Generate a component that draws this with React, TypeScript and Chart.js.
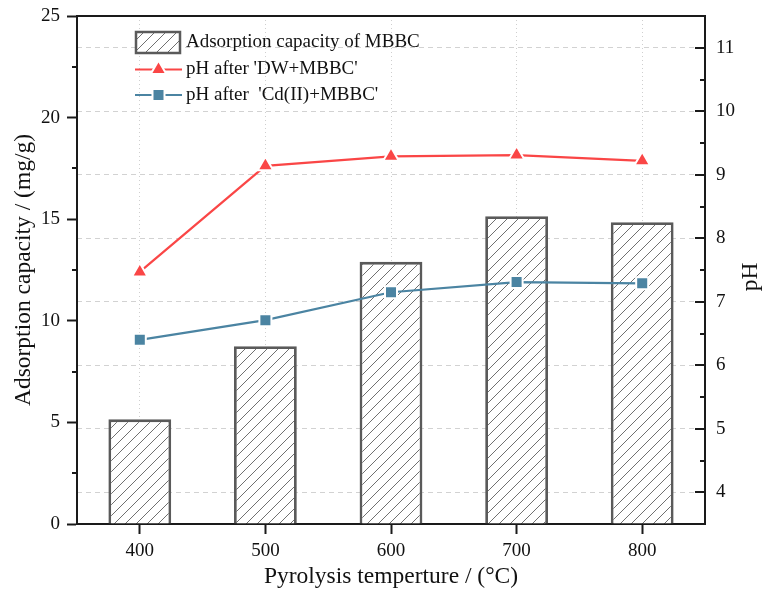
import React, { useEffect, useRef } from 'react';
import { Chart, registerables } from 'chart.js';

Chart.register(...registerables);

// ---- data ----
const temperatures = ['400', '500', '600', '700', '800'];
const adsorptionCapacity = [5.15, 8.75, 12.9, 15.15, 14.85];
const phAfterDW = [7.47, 9.14, 9.29, 9.31, 9.22];
const phAfterCd = [6.4, 6.71, 7.15, 7.31, 7.29];
const capacityTicks = [0, 5, 10, 15, 20, 25];
const phTicks = [4, 5, 6, 7, 8, 9, 10, 11];
const capacityMin = 0;
const capacityMax = 25;
const phMin = 3.5;
const phMax = 11.5;

const barLabel = 'Adsorption capacity of MBBC';
const dwLabel = "pH after 'DW+MBBC'";
const cdLabel = "pH after  'Cd(II)+MBBC'";
const xTitle = 'Pyrolysis temperture / (°C)';
const yTitle = 'Adsorption capacity / (mg/g)';
const y1Title = 'pH';

// ---- style ----
const FONT = "'Liberation Serif', 'Times New Roman', serif";
const AXIS = '#1a1a1a';
const TEXT = '#111111';
const RED = '#fa4646';
const BLUE = '#4b84a2';
const BAR_EDGE = '#5a5a5a';

function makeHatch(): CanvasPattern | string {
  const s = 11;
  const c = document.createElement('canvas');
  c.width = s;
  c.height = s;
  const g = c.getContext('2d');
  if (!g) return '#ffffff';
  g.fillStyle = '#ffffff';
  g.fillRect(0, 0, s, s);
  g.strokeStyle = '#707070';
  g.lineWidth = 1;
  g.beginPath();
  g.moveTo(-1, s + 1);
  g.lineTo(s + 1, -1);
  g.moveTo(-1, 1);
  g.lineTo(1, -1);
  g.moveTo(s - 1, s + 1);
  g.lineTo(s + 1, s - 1);
  g.stroke();
  return g.createPattern(c, 'repeat') || '#ffffff';
}

function drawTriangle(ctx: CanvasRenderingContext2D, x: number, y: number, r: number, color: string) {
  ctx.save();
  ctx.beginPath();
  for (let i = 0; i < 3; i++) {
    const a = (i * 2 * Math.PI) / 3;
    const px = x + Math.sin(a) * r;
    const py = y - Math.cos(a) * r;
    if (i === 0) ctx.moveTo(px, py);
    else ctx.lineTo(px, py);
  }
  ctx.closePath();
  ctx.fillStyle = color;
  ctx.fill();
  ctx.strokeStyle = '#ffffff';
  ctx.lineWidth = 2;
  ctx.stroke();
  ctx.restore();
}

function drawSquare(ctx: CanvasRenderingContext2D, x: number, y: number, r: number, color: string) {
  const s = Math.SQRT1_2 * r;
  ctx.save();
  ctx.beginPath();
  ctx.rect(x - s, y - s, 2 * s, 2 * s);
  ctx.fillStyle = color;
  ctx.fill();
  ctx.strokeStyle = '#ffffff';
  ctx.lineWidth = 2;
  ctx.stroke();
  ctx.restore();
}

function noPadding(s: any) {
  s.paddingTop = 0;
  s.paddingBottom = 0;
  s.paddingLeft = 0;
  s.paddingRight = 0;
}

export default function App() {
  const ref = useRef<HTMLCanvasElement | null>(null);

  useEffect(() => {
    if (!ref.current) return;
    const hatch = makeHatch();

    const decor = {
      id: 'decor',
      afterDraw(chart: any) {
        const ctx: CanvasRenderingContext2D = chart.ctx;
        const { left, right, top, bottom } = chart.chartArea;
        const yS = chart.scales.y;
        const y1S = chart.scales.y1;
        ctx.save();
        ctx.strokeStyle = AXIS;
        ctx.lineWidth = 2;
        // top frame line
        ctx.beginPath();
        ctx.moveTo(left - 1, top);
        ctx.lineTo(right + 1, top);
        ctx.stroke();
        // left minor ticks (outward)
        for (let i = 0; i < capacityTicks.length - 1; i++) {
          const v = (capacityTicks[i] + capacityTicks[i + 1]) / 2;
          const py = Math.round(yS.getPixelForValue(v));
          ctx.beginPath();
          ctx.moveTo(left - 5, py);
          ctx.lineTo(left, py);
          ctx.stroke();
        }
        // right ticks (inward), major and minor
        for (let i = 0; i < phTicks.length; i++) {
          const py = Math.round(y1S.getPixelForValue(phTicks[i]));
          ctx.beginPath();
          ctx.moveTo(right - 10, py);
          ctx.lineTo(right, py);
          ctx.stroke();
          if (i < phTicks.length - 1) {
            const pm = Math.round(y1S.getPixelForValue((phTicks[i] + phTicks[i + 1]) / 2));
            ctx.beginPath();
            ctx.moveTo(right - 5, pm);
            ctx.lineTo(right, pm);
            ctx.stroke();
          }
        }
        ctx.restore();

        // axis titles
        ctx.save();
        ctx.fillStyle = TEXT;
        ctx.font = `23.5px ${FONT}`;
        ctx.textAlign = 'center';
        ctx.textBaseline = 'middle';
        ctx.fillText(xTitle, (left + right) / 2, 577);
        ctx.save();
        ctx.translate(24, (top + bottom) / 2);
        ctx.rotate(-Math.PI / 2);
        ctx.fillText(yTitle, 0, 0);
        ctx.restore();
        ctx.save();
        ctx.translate(751, 277);
        ctx.rotate(-Math.PI / 2);
        ctx.fillText(y1Title, 0, 0);
        ctx.restore();
        ctx.restore();

        // legend
        const ds = chart.data.datasets;
        const lx0 = 135;
        const lx1 = 182;
        const tx = 186;
        const rows = [42.5, 69.5, 95];
        ctx.save();
        ctx.font = `19px ${FONT}`;
        ctx.textAlign = 'left';
        ctx.textBaseline = 'middle';
        ctx.fillStyle = hatch as any;
        ctx.fillRect(136, 32, 44, 21);
        ctx.strokeStyle = BAR_EDGE;
        ctx.lineWidth = 2.5;
        ctx.strokeRect(136, 32, 44, 21);
        ctx.fillStyle = TEXT;
        ctx.fillText(ds[0].label, tx, rows[0]);
        ctx.strokeStyle = RED;
        ctx.lineWidth = 2.2;
        ctx.beginPath();
        ctx.moveTo(lx0, rows[1]);
        ctx.lineTo(lx1, rows[1]);
        ctx.stroke();
        drawTriangle(ctx, (lx0 + lx1) / 2, rows[1], 9, RED);
        ctx.fillStyle = TEXT;
        ctx.fillText(ds[1].label, tx, rows[1]);
        ctx.strokeStyle = BLUE;
        ctx.lineWidth = 2.2;
        ctx.beginPath();
        ctx.moveTo(lx0, rows[2]);
        ctx.lineTo(lx1, rows[2]);
        ctx.stroke();
        drawSquare(ctx, (lx0 + lx1) / 2, rows[2], 8.5, BLUE);
        ctx.fillStyle = TEXT;
        ctx.fillText(ds[2].label, tx, rows[2]);
        ctx.restore();
      },
    };

    const tickFont = { family: FONT, size: 19 };

    const chart = new Chart(ref.current, {
      type: 'bar',
      data: {
        labels: temperatures,
        datasets: [
          {
            type: 'bar',
            label: barLabel,
            data: adsorptionCapacity,
            yAxisID: 'y',
            backgroundColor: hatch as any,
            borderColor: BAR_EDGE,
            borderWidth: 2.8,
            barPercentage: 0.5,
            categoryPercentage: 1,
            order: 3,
          },
          {
            type: 'line',
            label: dwLabel,
            data: phAfterDW,
            yAxisID: 'y1',
            borderColor: RED,
            backgroundColor: RED,
            borderWidth: 2.2,
            pointStyle: 'triangle',
            pointRadius: 9,
            pointBackgroundColor: RED,
            pointBorderColor: '#ffffff',
            pointBorderWidth: 2,
            tension: 0,
            order: 1,
          },
          {
            type: 'line',
            label: cdLabel,
            data: phAfterCd,
            yAxisID: 'y1',
            borderColor: BLUE,
            backgroundColor: BLUE,
            borderWidth: 2.2,
            pointStyle: 'rect',
            pointRadius: 8.5,
            pointBackgroundColor: BLUE,
            pointBorderColor: '#ffffff',
            pointBorderWidth: 2,
            tension: 0,
            order: 2,
          },
        ] as any,
      },
      options: {
        responsive: false,
        animation: false,
        devicePixelRatio: 1,
        layout: { padding: { top: 16, left: 0, right: 0, bottom: 0 } },
        plugins: {
          legend: { display: false },
          tooltip: { enabled: false },
          title: { display: false },
        },
        scales: {
          x: {
            type: 'category',
            offset: true,
            z: 1,
            grid: {
              offset: false,
              display: true,
              drawOnChartArea: true,
              drawTicks: true,
              color: '#cfcfcf',
              lineWidth: 1,
              tickLength: 10,
              tickColor: AXIS,
              tickWidth: 2,
              tickBorderDash: [],
            },
            border: { display: true, color: AXIS, width: 2, dash: [1, 3] },
            ticks: { color: TEXT, font: tickFont, padding: 6, maxRotation: 0 },
            afterFit: (s: any) => {
              s.height = 73;
              noPadding(s);
            },
          },
          y: {
            type: 'linear',
            position: 'left',
            min: capacityMin,
            max: capacityMax,
            afterBuildTicks: (s: any) => {
              s.ticks = capacityTicks.map((v) => ({ value: v }));
            },
            grid: {
              drawOnChartArea: false,
              drawTicks: true,
              tickLength: 10,
              tickColor: AXIS,
              tickWidth: 2,
              color: AXIS,
            },
            border: { display: true, color: AXIS, width: 2 },
            ticks: { color: TEXT, font: tickFont, padding: 7 },
            afterFit: (s: any) => {
              s.width = 77;
              noPadding(s);
            },
          },
          y1: {
            type: 'linear',
            position: 'right',
            min: phMin,
            max: phMax,
            afterBuildTicks: (s: any) => {
              s.ticks = phTicks.map((v) => ({ value: v }));
            },
            grid: {
              drawOnChartArea: true,
              drawTicks: false,
              color: '#d2d2d2',
              lineWidth: 1,
            },
            border: { display: true, color: AXIS, width: 2, dash: [5, 4] },
            ticks: { color: TEXT, font: tickFont, padding: 11 },
            afterFit: (s: any) => {
              s.width = 66;
              noPadding(s);
            },
          },
        },
      } as any,
      plugins: [decor],
    });

    return () => chart.destroy();
  }, []);

  return (
    <div style={{ position: 'fixed', left: 0, top: 0, width: 771, height: 597, background: '#ffffff' }}>
      <canvas ref={ref} width={771} height={597} style={{ display: 'block', width: 771, height: 597 }} />
    </div>
  );
}
